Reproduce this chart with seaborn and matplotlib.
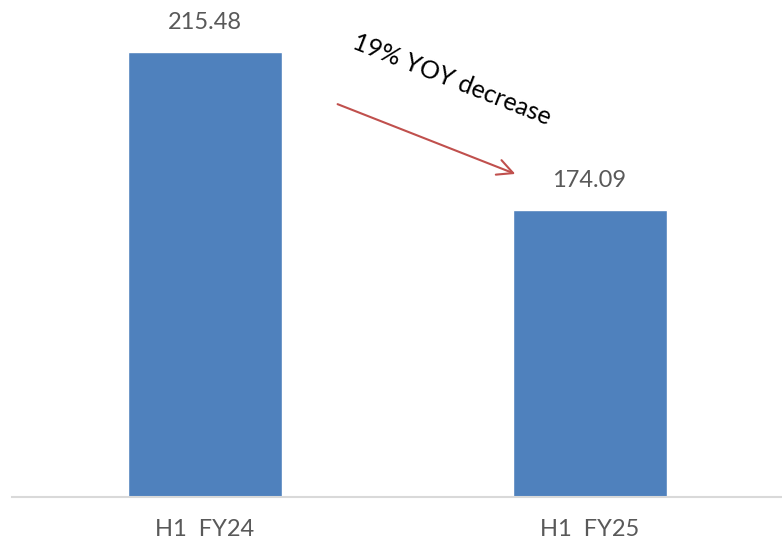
import matplotlib
matplotlib.use("Agg")
import matplotlib.pyplot as plt
import seaborn as sns
import pandas as pd

sns.set_theme(style="white")
plt.rcParams["font.family"] = ["Lato", "DejaVu Sans"]

# ── Data ─────────────────────────────────────────────────────────────────────
periods = ["H1  FY24", "H1  FY25"]
values = [215.48, 174.09]
change_label = "19% YOY decrease"

df = pd.DataFrame({"period": periods, "value": values})

BAR = "#4F81BD"
GREY = "#595959"

fig = plt.figure(figsize=(7.82, 5.56), dpi=100)
ax = fig.add_axes([12 / 782, 59 / 556, 770 / 782, 497 / 556])

sns.barplot(data=df, x="period", y="value", color=BAR, width=0.4,
            saturation=1, ax=ax)

ax.set_xlim(-0.5, 1.5)
ax.set_ylim(99, 229.1)

# value labels on top of bars
for i, v in enumerate(values):
    ax.text(i, v + 5, f"{v:.2f}", ha="center", va="bottom",
            fontsize=17, color=GREY)

# YOY arrow and note
ax.annotate("", xy=(0.814, 183.3), xytext=(0.339, 202.1),
            arrowprops=dict(arrowstyle="->", color="#C0504D", lw=1.5,
                            mutation_scale=28))
ax.text(0.643, 208.2, change_label, rotation=-21.5, ha="center", va="center",
        fontsize=18, color="black", rotation_mode="anchor")

# axes styling
for side in ["top", "right", "left"]:
    ax.spines[side].set_visible(False)
ax.spines["bottom"].set_color("#D9D9D9")
ax.spines["bottom"].set_linewidth(1.5)
ax.set_yticks([])
ax.set_xlabel("")
ax.set_ylabel("")
ax.tick_params(axis="x", length=0, pad=16, labelsize=17, labelcolor=GREY)

plt.savefig("out.png", dpi=100)
